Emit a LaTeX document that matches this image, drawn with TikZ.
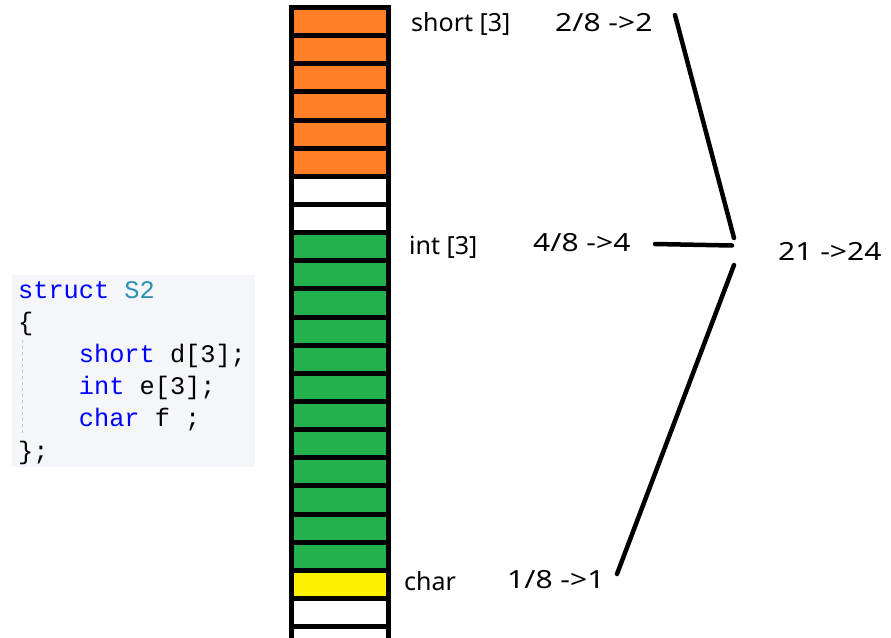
\documentclass[tikz,border=0pt]{standalone}
\usepackage{fontspec}
\setmainfont{Noto Sans}
\newfontfamily\numfont[FakeStretch=1.2]{Noto Sans}
\newfontfamily\codefont{Liberation Mono}
\definecolor{cellorange}{HTML}{FF7F27}
\definecolor{cellgreen}{HTML}{22B14C}
\definecolor{cellyellow}{HTML}{FFF200}
\definecolor{codebg}{HTML}{F5F6FA}
\definecolor{kwblue}{HTML}{0000FF}
\definecolor{typeteal}{HTML}{2B91AF}
\definecolor{guidegray}{HTML}{C8C8C8}
\tikzset{
  cell/.style={draw=black, line width=5pt, minimum width=97pt, minimum height=28.14pt, inner sep=0pt, outer sep=0pt},
  label/.style={anchor=base west, inner sep=0pt, font=\fontsize{25}{30}\selectfont},
  numlabel/.style={anchor=base west, inner sep=0pt, font=\numfont\fontsize{25}{30}\selectfont},
  code/.style={anchor=base west, inner sep=0pt, font=\codefont\fontsize{25.3}{30}\selectfont},
  stroke/.style={line width=4.5pt, line cap=round}
}
\begin{document}
\begin{tikzpicture}[x=1pt,y=-1pt]
\clip (0,0) rectangle (891,637);
\fill[white] (0,0) rectangle (891,637);
% code block
\fill[codebg] (12,275) rectangle (255,467);
\draw[guidegray, dashed, line width=1pt] (22.5,340) -- (22.5,436);
\node[code] (l1) at (18,298) {\textcolor{kwblue}{struct} \textcolor{typeteal}{S2}};
\node[code] (l2) at (18,330.2) {\{};
\node[code] (l3) at (18,362.4) {\phantom{xxxx}\textcolor{kwblue}{short} d[3];};
\node[code] (l4) at (18,394.6) {\phantom{xxxx}\textcolor{kwblue}{int} e[3];};
\node[code] (l5) at (18,426.8) {\phantom{xxxx}\textcolor{kwblue}{char} f ;};
\node[code] (l6) at (18,459) {\};};
% memory column
\foreach \i/\c in {0/cellorange,1/cellorange,2/cellorange,3/cellorange,4/cellorange,5/cellorange,
  6/white,7/white,
  8/cellgreen,9/cellgreen,10/cellgreen,11/cellgreen,12/cellgreen,13/cellgreen,14/cellgreen,15/cellgreen,16/cellgreen,17/cellgreen,18/cellgreen,19/cellgreen,
  20/cellyellow,21/white,22/white}
  \node[cell, fill=\c] (c\i) at (340,{7.5+28.14*(\i+0.5)}) {};
% labels
\node[label] (tshort) at (411,31) {short [3]};
\node[numlabel] (tshortr) at (555,31) {2/8 ->2};
\node[label] (tint) at (409,254) {int [3]};
\node[numlabel] (tintr) at (533,251) {4/8 ->4};
\node[label] (tchar) at (404,590) {char};
\node[numlabel] (tcharr) at (507,588) {1/8 ->1};
\node[numlabel] (ttotal) at (778,260) {21 ->24};
% strokes
\coordinate (a1) at (675,15);
\coordinate (a2) at (734,238);
\coordinate (b1) at (655,244);
\coordinate (b2) at (732,245.5);
\coordinate (d1) at (734,265);
\coordinate (d2) at (617,574);
\draw[stroke] (a1) -- (a2);
\draw[stroke] (b1) -- (b2);
\draw[stroke] (d1) -- (d2);
\end{tikzpicture}
\end{document}
